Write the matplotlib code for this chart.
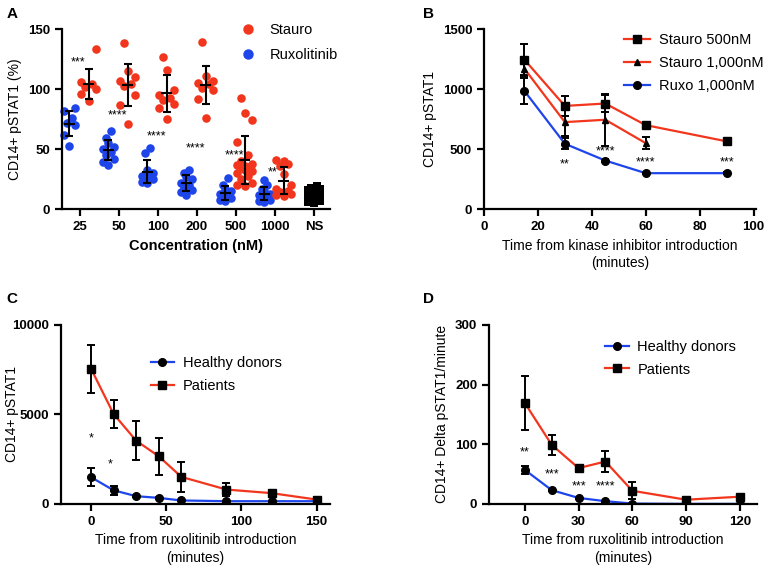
import numpy as np
import matplotlib
matplotlib.use("Agg")
import matplotlib.pyplot as plt
from matplotlib.lines import Line2D

plt.rcParams['font.family'] = ['Liberation Sans', 'DejaVu Sans']

RED = '#f2361e'
BLUE = '#1e45ea'

# ---- panel A data ----
conc_labels = ['25', '50', '100', '200', '500', '1000', 'NS']
ruxo_vals = [
    [84, 82, 76, 72, 70, 62, 53],
    [65, 59, 55, 52, 50, 48, 45, 42, 39, 37],
    [51, 47, 33, 30, 28, 27, 26, 25, 23, 22],
    [33, 30, 27, 25, 22, 20, 18, 16, 14, 12],
    [26, 20, 17, 15, 13, 12, 10, 9, 8, 7],
    [24, 20, 17, 15, 13, 12, 11, 10, 8, 7, 6],
]
stauro_vals = [
    [133, 106, 104, 102, 100, 96, 90],
    [138, 115, 110, 107, 104, 103, 95, 87, 71],
    [127, 116, 99, 95, 93, 91, 88, 84, 75],
    [139, 111, 107, 105, 104, 101, 99, 92, 76],
    [93, 80, 74, 56, 45, 40, 38, 37, 36, 35, 34, 33, 32, 30, 28, 25, 22, 20, 19],
    [41, 40, 38, 36, 29, 20, 17, 15, 14, 13, 12, 11],
]
ns_vals = [19, 18, 17, 16, 15, 14, 13, 12, 11, 10, 9, 8, 7, 6, 5]
a_stars = ['***', '****', '****', '****', '****', '**']
a_star_y = [122, 78, 61, 51, 45, 31]

# ---- panel B data ----
b_time = [15, 30, 45, 60, 90]
b_stauro500 = [1245, 860, 880, 700, 565]
b_stauro500_err = [130, 85, 70, 30, 10]
b_time_1000 = [15, 30, 45, 60]
b_stauro1000 = [1170, 725, 745, 550]
b_stauro1000_err = [60, 115, 215, 50]
b_ruxo = [985, 545, 405, 300, 300]
b_ruxo_err = [105, 45, 10, 8, 8]
b_stars = ['**', '****', '****', '***']
b_star_x = [30, 45, 60, 90]
b_star_y = [375, 478, 388, 388]

# ---- panel C data ----
c_time = [0, 15, 30, 45, 60, 90, 120, 150]
c_patients = [7550, 5020, 3530, 2660, 1510, 800, 600, 240]
c_patients_err = [1340, 800, 1080, 1020, 830, 370, 200, 100]
c_healthy = [1490, 760, 430, 335, 190, 150, 150, 150]
c_healthy_err = [500, 250, 60, 40, 30, 30, 30, 30]
c_stars = ['*', '*']
c_star_x = [0, 13]
c_star_y = [3650, 2230]

# ---- panel D data ----
d_time = [0, 15, 30, 45, 60, 90, 120]
d_patients = [169, 99, 60, 71, 22, 7, 12]
d_patients_err = [46, 17, 6, 18, 14, 3, 2]
d_healthy = [57, 23, 10, 4.5, 0.5, 0, 0]
d_healthy_err = [7, 2, 1, 1, 0.5, 0, 0]
d_stars = ['**', '***', '***', '****']
d_star_x = [0, 15, 30, 45]
d_star_y = [86, 49, 29, 29]


def style_axes(ax):
    for s in ['top', 'right']:
        ax.spines[s].set_visible(False)
    for s in ['left', 'bottom']:
        ax.spines[s].set_linewidth(1.6)
    ax.tick_params(width=1.6, length=5, labelsize=9.5)
    for lab in ax.get_xticklabels() + ax.get_yticklabels():
        lab.set_fontweight('bold')


def swarm_offsets(vals, width):
    # simple deterministic spread: alternate left/right by rank
    order = np.argsort(vals)
    pattern = [0, -1, 1, -0.5, 0.5, -1, 1, 0, -0.5, 0.5]
    offs = np.zeros(len(vals))
    for k, i in enumerate(order):
        offs[i] = pattern[k % len(pattern)] * width
    return offs


def line_panel(ax, x, y, err, col, mk, ms, label):
    ax.errorbar(x, y, yerr=err, color=col, marker=mk, mfc='k', mec='k', ms=ms, lw=1.6,
                ecolor='k', elinewidth=1.4, capsize=3, capthick=1.4, label=label)


fig = plt.figure(figsize=(7.67, 5.70), dpi=100)

# ================= A =================
axA = fig.add_axes([0.0808, 0.633, 0.349, 0.316])
pos = np.arange(1, len(conc_labels) + 1)
for i in range(len(ruxo_vals)):
    for vals, off, w, col in [(ruxo_vals[i], -0.27, 0.14, BLUE), (stauro_vals[i], 0.22, 0.2, RED)]:
        v = np.array(vals, dtype=float)
        xs = pos[i] + off + swarm_offsets(v, w)
        axA.scatter(xs, v, s=38, color=col, zorder=2, linewidths=0, clip_on=False)
        m, sd = v.mean(), v.std()
        axA.errorbar(pos[i] + off, m, yerr=sd, color='k', capsize=3,
                     elinewidth=1.5, capthick=1.5, zorder=3)
        axA.plot([pos[i] + off - 0.12, pos[i] + off + 0.12], [m, m], color='k', lw=1.5, zorder=3)
    axA.text(pos[i] - 0.05, a_star_y[i], a_stars[i], ha='center', va='center', fontsize=9)
ns = np.array(ns_vals, dtype=float)
axA.scatter(pos[6] + swarm_offsets(ns, 0.15), ns, s=40, marker='s', color='k', zorder=2, linewidths=0)
axA.set_xlim(0.54, 7.4)
axA.set_ylim(0, 150)
axA.set_yticks([0, 50, 100, 150])
axA.set_xticks(pos)
axA.set_xticklabels(conc_labels)
axA.set_ylabel('CD14+ pSTAT1 (%)', fontsize=10)
axA.set_xlabel('Concentration (nM)', fontsize=10.5, fontweight='bold')
style_axes(axA)
legA = [Line2D([], [], ls='none', marker='o', color=RED, markersize=6.5),
        Line2D([], [], ls='none', marker='o', color=BLUE, markersize=6.5)]
fig.legend(legA, ['Stauro', 'Ruxolitinib'], loc='upper left', bbox_to_anchor=(0.287, 0.982),
           frameon=False, fontsize=10.5, handletextpad=0.5, labelspacing=0.75)

# ================= B =================
axB = fig.add_axes([0.631, 0.633, 0.355, 0.316])
line_panel(axB, b_time, b_stauro500, b_stauro500_err, RED, 's', 6, 'Stauro 500nM')
line_panel(axB, b_time_1000, b_stauro1000, b_stauro1000_err, RED, '^', 5, 'Stauro 1,000nM')
line_panel(axB, b_time, b_ruxo, b_ruxo_err, BLUE, 'o', 5.5, 'Ruxo 1,000nM')
for x, y, s in zip(b_star_x, b_star_y, b_stars):
    axB.text(x, y, s, ha='center', va='center', fontsize=9)
axB.set_xlim(0, 101)
axB.set_ylim(0, 1500)
axB.set_xticks([0, 20, 40, 60, 80, 100])
axB.set_yticks([0, 500, 1000, 1500])
axB.set_ylabel('CD14+ pSTAT1', fontsize=10)
axB.set_xlabel('Time from kinase inhibitor introduction\n(minutes)', fontsize=10, linespacing=1.35)
style_axes(axB)
hB, lB = axB.get_legend_handles_labels()
axB.legend([h[0] for h in hB], lB, loc='upper right', bbox_to_anchor=(1.075, 1.05), frameon=False,
           fontsize=10.5, handlelength=1.8, handletextpad=0.6, labelspacing=0.62)

# ================= C =================
axC = fig.add_axes([0.0795, 0.116, 0.351, 0.314])
line_panel(axC, c_time, c_healthy, c_healthy_err, BLUE, 'o', 5.5, 'Healthy donors')
line_panel(axC, c_time, c_patients, c_patients_err, RED, 's', 6, 'Patients')
for x, y, s in zip(c_star_x, c_star_y, c_stars):
    axC.text(x, y, s, ha='center', va='center', fontsize=9)
axC.set_xlim(-20, 159)
axC.set_ylim(0, 10000)
axC.set_xticks([0, 50, 100, 150])
axC.set_yticks([0, 5000, 10000])
axC.set_ylabel('CD14+ pSTAT1', fontsize=10)
axC.yaxis.set_label_coords(-0.155, 0.5)
axC.set_xlabel('Time from ruxolitinib introduction\n(minutes)', fontsize=10, linespacing=1.35)
style_axes(axC)
hC, lC = axC.get_legend_handles_labels()
axC.legend([h[0] for h in hC], lC, loc='upper left', bbox_to_anchor=(0.285, 0.9), frameon=False,
           fontsize=10.5, handlelength=1.6, handletextpad=0.6, labelspacing=0.6)

# ================= D =================
axD = fig.add_axes([0.6376, 0.116, 0.349, 0.314])
line_panel(axD, d_time, d_healthy, d_healthy_err, BLUE, 'o', 5.5, 'Healthy donors')
line_panel(axD, d_time, d_patients, d_patients_err, RED, 's', 6, 'Patients')
for x, y, s in zip(d_star_x, d_star_y, d_stars):
    axD.text(x, y, s, ha='center', va='center', fontsize=9)
axD.set_xlim(-20, 129.5)
axD.set_ylim(0, 300)
axD.set_xticks([0, 30, 60, 90, 120])
axD.set_yticks([0, 100, 200, 300])
axD.set_ylabel('CD14+ Delta pSTAT1/minute', fontsize=10)
axD.set_xlabel('Time from ruxolitinib introduction\n(minutes)', fontsize=10, linespacing=1.35)
style_axes(axD)
hD, lD = axD.get_legend_handles_labels()
axD.legend([h[0] for h in hD], lD, loc='upper left', bbox_to_anchor=(0.385, 0.99), frameon=False,
           fontsize=10.5, handlelength=1.6, handletextpad=0.6, labelspacing=0.6)

# panel letters
for x, y, t in [(0.008, 0.975, 'A'), (0.552, 0.975, 'B'), (0.008, 0.475, 'C'), (0.552, 0.475, 'D')]:
    fig.text(x, y, t, fontsize=11, fontweight='bold', va='center')

fig.savefig('out.png', dpi=100)
